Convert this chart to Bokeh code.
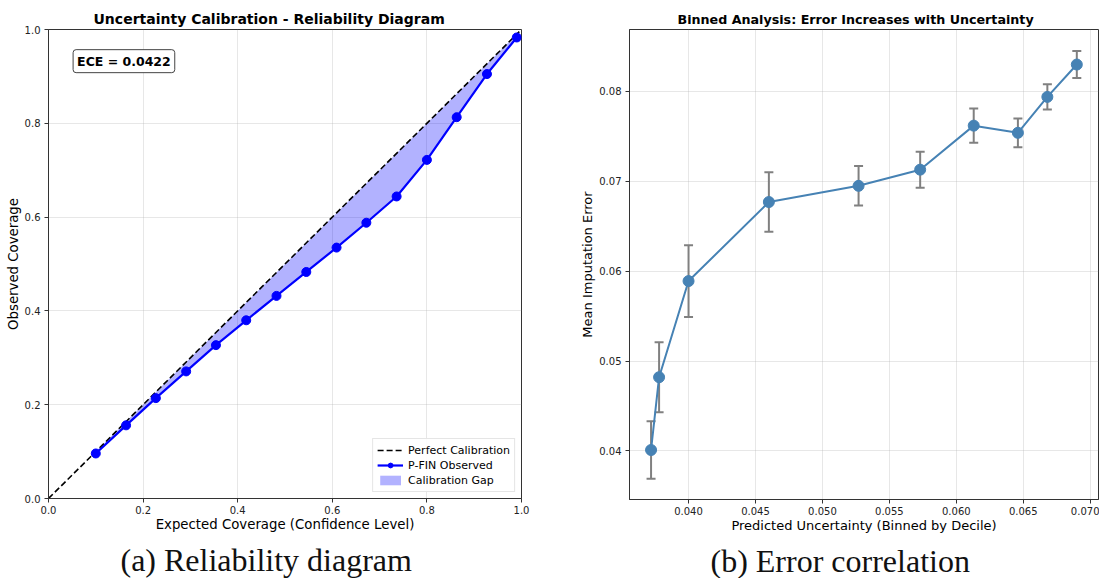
from bokeh.plotting import figure
from bokeh.layouts import row
from bokeh.models import (ColumnDataSource, Label, Legend, LegendItem, Title,
                          FixedTicker, NumeralTickFormatter, Range1d, Whisker, TeeHead)
from bokeh.embed import file_html
from bokeh.resources import INLINE

# ---------------- data: reliability diagram ----------------
diag = [0.0, 1.0]
expected = [0.100, 0.164, 0.227, 0.291, 0.354, 0.418, 0.482, 0.545,
            0.609, 0.672, 0.736, 0.800, 0.863, 0.927, 0.990]
observed = [0.096, 0.156, 0.214, 0.271, 0.327, 0.380, 0.432, 0.483,
            0.535, 0.588, 0.644, 0.722, 0.813, 0.905, 0.983]
ece_text = "ECE = 0.0422"
cov_ticks = [0.0, 0.2, 0.4, 0.6, 0.8, 1.0]

# ---------------- data: binned analysis ----------------
unc = [0.0372, 0.0378, 0.0400, 0.0460, 0.0527, 0.0573, 0.0613, 0.0646, 0.0668, 0.0690]
err_mean = [0.0401, 0.0482, 0.0589, 0.0677, 0.0695, 0.0713, 0.0762, 0.0754, 0.0794, 0.0830]
err_std = [0.0032, 0.0039, 0.0040, 0.0033, 0.0022, 0.0020, 0.0019, 0.0016, 0.0014, 0.0015]
unc_ticks = [0.040, 0.045, 0.050, 0.055, 0.060, 0.065, 0.070]
err_ticks = [0.04, 0.05, 0.06, 0.07, 0.08]

FONT = "DejaVu Sans"
AX = "#333333"


def style(p, tick_size, label_size):
    p.outline_line_color = AX
    p.outline_line_width = 1
    p.background_fill_color = "white"
    p.border_fill_color = "white"
    for ax in (p.xaxis[0], p.yaxis[0]):
        ax.axis_line_color = AX
        ax.major_tick_line_color = AX
        ax.major_tick_out = 4
        ax.major_tick_in = 0
        ax.minor_tick_line_color = None
        ax.major_label_text_font = FONT
        ax.major_label_text_font_size = tick_size
        ax.major_label_text_color = "#222222"
        ax.axis_label_text_font = FONT
        ax.axis_label_text_font_size = label_size
        ax.axis_label_text_font_style = "normal"
        ax.axis_label_text_color = "black"
        ax.major_label_standoff = 4
    p.xaxis[0].major_label_standoff = 3
    p.xaxis[0].axis_label_standoff = 0
    p.yaxis[0].axis_label_standoff = 1
    for g in (p.xgrid[0], p.ygrid[0]):
        g.grid_line_color = "#b0b0b0"
        g.grid_line_alpha = 0.3
        g.grid_line_width = 1


# ---------------- left figure ----------------
p1 = figure(frame_width=473, frame_height=469, output_backend="svg", toolbar_location=None,
            x_range=Range1d(0, 1), y_range=Range1d(0, 1),
            min_border_left=48, min_border_right=35, min_border_top=29, min_border_bottom=79,
            x_axis_label="Expected Coverage (Confidence Level)", y_axis_label="Observed Coverage")
p1.title.text = "Uncertainty Calibration - Reliability Diagram"
p1.title.text_font = FONT
p1.title.text_font_size = "14px"
p1.title.text_font_style = "bold"
p1.title.text_color = "black"
p1.title.align = "left"
p1.title.offset = 45
p1.title.standoff = 5
style(p1, "10px", "13.3px")
p1.xaxis.ticker = FixedTicker(ticks=cov_ticks)
p1.yaxis.ticker = FixedTicker(ticks=cov_ticks)
p1.xaxis.formatter = NumeralTickFormatter(format="0.0")
p1.yaxis.formatter = NumeralTickFormatter(format="0.0")

gap = p1.varea(x=expected, y1=expected, y2=observed, fill_color="blue", fill_alpha=0.3)
perfect = p1.line(diag, diag, line_color="black", line_width=1.6, line_dash="6 3")
obs_line = p1.line(expected, observed, line_color="blue", line_width=2.2)
obs_pts = p1.scatter(expected, observed, size=9, fill_color="blue", line_color="blue")

legend = Legend(items=[
    LegendItem(label="Perfect Calibration", renderers=[perfect]),
    LegendItem(label="P-FIN Observed", renderers=[obs_line, obs_pts]),
    LegendItem(label="Calibration Gap", renderers=[gap]),
], location="bottom_right")
legend.label_text_font = FONT
legend.label_text_font_size = "11px"
legend.label_text_color = "black"
legend.label_height = 14
legend.glyph_height = 12
legend.glyph_width = 26
legend.spacing = 1
legend.padding = 4
legend.margin = 6
legend.border_line_color = "#cccccc"
legend.background_fill_alpha = 0.9
p1.add_layout(legend)

ece = Label(x=0.052, y=0.957, text=ece_text, text_font=FONT, text_font_size="12.5px",
            text_font_style="bold", text_baseline="top", text_align="left", text_color="black",
            border_line_color="#444444", border_line_width=1, background_fill_color="white",
            padding=4, border_radius=3)
p1.add_layout(ece)

cap1 = Title(text="(a) Reliability diagram", align="left", offset=72, standoff=10,
             text_font="Liberation Serif", text_font_size="32px", text_font_style="normal",
             text_color="#111111")
p1.add_layout(cap1, "below")

# ---------------- right figure ----------------
p2 = figure(frame_width=469, frame_height=470, output_backend="svg", toolbar_location=None,
            x_range=Range1d(0.03559, 0.07062), y_range=Range1d(0.03459, 0.0869),
            min_border_left=73, min_border_right=1, min_border_top=27, min_border_bottom=80,
            x_axis_label="Predicted Uncertainty (Binned by Decile)", y_axis_label="Mean Imputation Error")
p2.title.text = "Binned Analysis: Error Increases with Uncertainty"
p2.title.text_font = FONT
p2.title.text_font_size = "12.7px"
p2.title.text_font_style = "bold"
p2.title.text_color = "black"
p2.title.align = "left"
p2.title.offset = 48
p2.title.standoff = 5
style(p2, "10px", "13px")
p2.xaxis.ticker = FixedTicker(ticks=unc_ticks)
p2.yaxis.ticker = FixedTicker(ticks=err_ticks)
p2.xaxis.formatter = NumeralTickFormatter(format="0.000")
p2.yaxis.formatter = NumeralTickFormatter(format="0.00")

src = ColumnDataSource(dict(
    x=unc, y=err_mean,
    upper=[m + s for m, s in zip(err_mean, err_std)],
    lower=[m - s for m, s in zip(err_mean, err_std)],
))
wh = Whisker(base="x", upper="upper", lower="lower", source=src, level="underlay",
             line_color="gray", line_width=2,
             upper_head=TeeHead(size=9, line_color="gray", line_width=2),
             lower_head=TeeHead(size=9, line_color="gray", line_width=2))
p2.add_layout(wh)
p2.line("x", "y", source=src, line_color="steelblue", line_width=2)
p2.scatter("x", "y", source=src, size=11, fill_color="steelblue", line_color="steelblue")

cap2 = Title(text="(b) Error correlation", align="left", offset=81, standoff=10,
             text_font="Liberation Serif", text_font_size="32px", text_font_style="normal",
             text_color="#111111")
p2.add_layout(cap2, "below")

layout = row(p1, p2)
open("out.html", "w").write(file_html(layout, INLINE))
